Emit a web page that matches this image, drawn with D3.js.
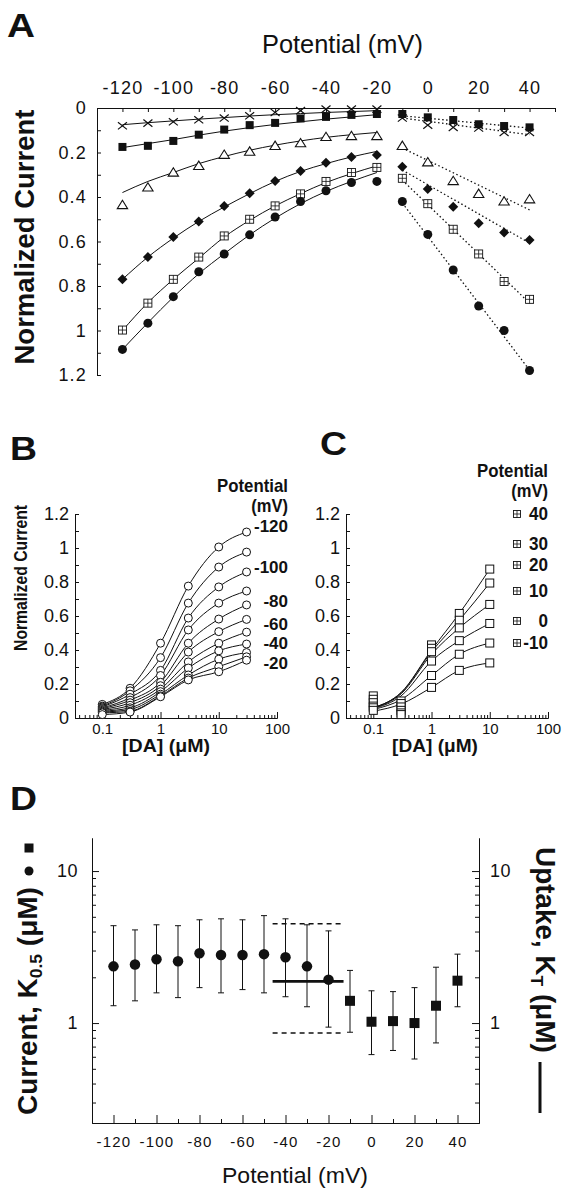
<!DOCTYPE html>
<html>
<head>
<meta charset="utf-8">
<script src="https://cdn.jsdelivr.net/npm/d3@7/dist/d3.min.js"></script>
<style>
html,body{margin:0;padding:0;background:#fff;}
svg{display:block;}
</style>
</head>
<body>
<svg id="fig" width="570" height="1199" viewBox="0 0 570 1199"></svg>
<script>
// ================= DATA =================
// ---- Panel A: normalized current vs potential ----
const potA = [-120,-110,-100,-90,-80,-70,-60,-50,-40,-30,-20,-10,0,10,20,30,40];
const aCross    = [0.080,0.068,0.062,0.053,0.045,0.035,0.020,0.012,0.005,0.005,0.005, 0.045,0.077,0.087,0.090,0.110,0.110];
const aSquare   = [0.175,0.170,0.148,0.120,0.097,0.077,0.067,0.047,0.040,0.031,0.027, 0.027,0.042,0.054,0.073,0.081,0.087];
const aTriangle = [0.436,0.357,0.290,0.260,0.210,0.196,0.170,0.158,0.130,0.126,0.126, 0.170,0.244,0.328,0.386,0.420,0.410];
const aDiamond  = [0.770,0.670,0.580,0.510,0.440,0.383,0.328,0.283,0.246,0.220,0.211, 0.264,0.364,0.444,0.518,0.559,0.593];
const aBoxPlus  = [0.998,0.877,0.770,0.670,0.575,0.500,0.440,0.386,0.330,0.290,0.267, 0.316,0.430,0.545,0.656,0.780,0.860];
const aCircle   = [1.085,0.967,0.848,0.736,0.656,0.570,0.490,0.420,0.372,0.335,0.330, 0.420,0.568,0.728,0.890,1.000,1.180];
// fitted curves (-120 .. -20 mV)
const fitPot = [-120,-110,-100,-90,-80,-70,-60,-50,-40,-30,-20];
const fitCross    = [0.075,0.066,0.058,0.050,0.043,0.036,0.030,0.025,0.020,0.016,0.012];
const fitSquare   = [0.178,0.160,0.142,0.122,0.104,0.088,0.074,0.062,0.050,0.040,0.030];
const fitTriangle = [0.380,0.330,0.290,0.250,0.218,0.190,0.167,0.148,0.132,0.120,0.110];
const fitDiamond  = [0.770,0.670,0.585,0.510,0.445,0.385,0.330,0.285,0.250,0.220,0.195];
const fitBoxPlus  = [1.000,0.875,0.770,0.675,0.580,0.505,0.440,0.385,0.335,0.295,0.260];
const fitCircle   = [1.085,0.965,0.850,0.745,0.655,0.570,0.495,0.430,0.375,0.330,0.290];
// dotted linear fits (-10 .. 40 mV)
const dotPot = [-10, 40];
const dotCross    = [0.045, 0.120];
const dotSquare   = [0.035, 0.090];
const dotTriangle = [0.180, 0.458];
const dotDiamond  = [0.279, 0.607];
const dotBoxPlus  = [0.324, 0.877];
const dotCircle   = [0.427, 1.178];
const tickA = [-120,-110,-100,-90,-80,-70,-60,-50,-40,-30,-20,-10,0,10,20,30,40,50];
const labA  = [-120,-100,-80,-60,-40,-20,0,20,40];
const yTickA = [0,0.1,0.2,0.3,0.4,0.5,0.6,0.7,0.8,0.9,1.0,1.1,1.2];
const yLabA  = [0,0.2,0.4,0.6,0.8,1.0,1.2];

// ---- Panel B: current vs [DA], -120 .. -20 mV ----
const concB = [0.1, 0.3, 1, 3, 10, 30];
const potB  = [-120,-110,-100,-90,-80,-70,-60,-50,-40,-30,-20];
const bCurrent = [
  [0.080,0.175,0.440,0.776,1.006,1.094],
  [0.070,0.160,0.355,0.676,0.888,0.976],
  [0.065,0.140,0.280,0.588,0.771,0.859],
  [0.060,0.120,0.250,0.518,0.676,0.747],
  [0.055,0.105,0.210,0.440,0.582,0.665],
  [0.050,0.090,0.190,0.388,0.508,0.580],
  [0.045,0.075,0.170,0.330,0.440,0.505],
  [0.040,0.060,0.155,0.294,0.395,0.435],
  [0.035,0.050,0.140,0.253,0.346,0.385],
  [0.030,0.040,0.130,0.235,0.302,0.360],
  [0.020,0.035,0.125,0.224,0.272,0.340]
];
const legB = ['-120','-100','-80','-60','-40','-20'];

// ---- Panel C: current vs [DA], 40 .. -10 mV ----
const concC = [0.1, 0.3, 1, 3, 10];
const potC  = [40, 30, 20, 10, 0, -10];
const cCurrent = [
  [0.130,0.100,0.430,0.615,0.876],
  [0.110,0.085,0.410,0.575,0.794],
  [0.090,0.065,0.390,0.530,0.668],
  [0.070,0.045,0.335,0.455,0.556],
  [0.060,0.030,0.250,0.375,0.441],
  [0.045,0.020,0.180,0.280,0.324]
];
const cFit = [
  [0.060,0.150,0.400,0.615,0.876],
  [0.060,0.148,0.390,0.575,0.794],
  [0.058,0.142,0.375,0.530,0.668],
  [0.055,0.130,0.335,0.455,0.556],
  [0.050,0.108,0.250,0.375,0.441],
  [0.040,0.082,0.180,0.280,0.324]
];
const tickBC_major = [0.1, 1, 10, 100];
const tickBC_minor = [0.04,0.05,0.06,0.07,0.08,0.09,0.2,0.3,0.4,0.5,0.6,0.7,0.8,0.9,2,3,4,5,6,7,8,9,20,30,40,50,60,70,80,90];
const yTickBC = [0,0.1,0.2,0.3,0.4,0.5,0.6,0.7,0.8,0.9,1.0,1.1,1.2];
const yLabBC  = [0,0.2,0.4,0.6,0.8,1.0,1.2];

// ---- Panel D: K0.5 (current) and KT (uptake) ----
const potDcirc = [-120,-110,-100,-90,-80,-70,-60,-50,-40,-30,-20];
const kCurr    = [2.36,2.43,2.63,2.55,2.88,2.80,2.80,2.84,2.71,2.36,1.93];
const kCurrHi  = [4.37,4.10,4.43,4.37,4.78,4.85,4.78,5.09,4.85,4.43,4.04];
const kCurrLo  = [1.30,1.40,1.58,1.47,1.71,1.58,1.66,1.58,1.49,1.28,0.94];
const potDsq   = [-10,0,10,20,30,40];
const kSq      = [1.40,1.02,1.03,1.00,1.30,1.90];
const kSqHi    = [2.22,1.63,1.61,1.71,2.33,2.84];
const kSqLo    = [0.87,0.62,0.66,0.58,0.74,1.28];
const uptakeSpan = [-46, -13];
const uptakeK  = 1.88;
const uptakeHi = 4.5;
const uptakeLo = 0.86;
const tickD_major = [-120,-100,-80,-60,-40,-20,0,20,40];
const tickD_minor = [-110,-90,-70,-50,-30,-10,10,30];
const yTickD_major = [1, 10];
const yTickD_minor = [0.3,0.4,0.5,0.6,0.7,0.8,0.9,2,3,4,5,6,7,8,9];

// ================= DRAWING =================
const FONT = '"Liberation Sans", Arial, Helvetica, sans-serif';
const INK = '#111';
const svg = d3.select('#fig').attr('font-family', FONT);
svg.append('rect').attr('width', 570).attr('height', 1199).attr('fill', '#fff');

function fitText(parent, o) {
  const g = parent.append('g');
  const t = g.append('text')
    .attr('font-size', o.size)
    .attr('font-weight', o.weight || 'normal')
    .attr('text-anchor', o.anchor || 'start')
    .attr('fill', INK);
  if (o.parts) {
    o.parts.forEach(p => {
      const ts = t.append('tspan').text(p.t);
      if (p.size) ts.attr('font-size', p.size);
      if (p.dy) ts.attr('dy', p.dy);
    });
  } else t.text(o.text);
  let sx = o.sx || 1;
  if (o.width) sx = o.width / t.node().getComputedTextLength();
  g.attr('transform', `translate(${o.x},${o.y}) rotate(${o.rotate || 0}) scale(${sx},1)`);
  return g;
}

function styleAxis(sel, size, spacing) {
  sel.attr('font-family', FONT).attr('font-size', size);
  sel.selectAll('.domain').attr('stroke', INK).attr('stroke-width', 1);
  sel.selectAll('.tick line').attr('stroke', INK).attr('stroke-width', 1);
  sel.selectAll('.tick text').attr('fill', INK);
  if (spacing) sel.selectAll('.tick text').attr('letter-spacing', spacing);
}

function marker(g, type, cx, cy, s) {
  const h = s / 2;
  if (type === 'circleF') {
    g.append('circle').attr('cx', cx).attr('cy', cy).attr('r', h).attr('fill', INK);
  } else if (type === 'circleO') {
    g.append('circle').attr('cx', cx).attr('cy', cy).attr('r', h).attr('fill', '#fff').attr('stroke', INK).attr('stroke-width', 1);
  } else if (type === 'squareF') {
    g.append('rect').attr('x', cx - h).attr('y', cy - h).attr('width', s).attr('height', s).attr('fill', INK);
  } else if (type === 'squareO') {
    g.append('rect').attr('x', cx - h).attr('y', cy - h).attr('width', s).attr('height', s).attr('fill', '#fff').attr('stroke', INK).attr('stroke-width', 1);
  } else if (type === 'boxPlus') {
    g.append('rect').attr('x', cx - h).attr('y', cy - h).attr('width', s).attr('height', s).attr('fill', '#fff').attr('stroke', INK).attr('stroke-width', 0.9);
    g.append('path').attr('d', `M${cx - h},${cy}H${cx + h}M${cx},${cy - h}V${cy + h}`).attr('stroke', INK).attr('stroke-width', 0.8);
  } else if (type === 'diamF') {
    g.append('path').attr('d', `M${cx},${cy - h}L${cx + h},${cy}L${cx},${cy + h}L${cx - h},${cy}Z`).attr('fill', INK);
  } else if (type === 'triO') {
    g.append('path').attr('d', `M${cx},${cy - h * 1.05}L${cx + h * 1.15},${cy + h * 0.8}L${cx - h * 1.15},${cy + h * 0.8}Z`)
      .attr('fill', '#fff').attr('stroke', INK).attr('stroke-width', 1.1);
  } else if (type === 'cross') {
    g.append('path').attr('d', `M${cx - h},${cy - h * 0.8}L${cx + h},${cy + h * 0.8}M${cx + h},${cy - h * 0.8}L${cx - h},${cy + h * 0.8}`)
      .attr('stroke', INK).attr('stroke-width', 1.2).attr('fill', 'none');
  }
}

// ---------- Panel A ----------
const gA = svg.append('g');
const xA = d3.scaleLinear().domain([-130, 50]).range([97, 555]);
const yA = d3.scaleLinear().domain([0, 1.2]).range([108, 375]);

const axTA = gA.append('g').attr('transform', `translate(0,${yA(0)})`)
  .call(d3.axisTop(xA).tickValues(tickA).tickSize(-4).tickSizeOuter(0).tickPadding(14)
    .tickFormat(d => labA.includes(d) ? String(d) : ''));
styleAxis(axTA, 18, 1.2);

const fmt1 = d => String(+d.toFixed(1));
const axLA = gA.append('g').attr('transform', `translate(${xA(-130)},0)`)
  .call(d3.axisLeft(yA).tickValues(yTickA).tickSize(-4).tickSizeOuter(0).tickPadding(10)
    .tickFormat(d => yLabA.some(v => Math.abs(v - d) < 1e-6) ? fmt1(d) : ''));
styleAxis(axLA, 18, 1.2);

const seriesA = [
  {vals: aCross,    fit: fitCross,    dot: dotCross,    type: 'cross',   s: 9},
  {vals: aSquare,   fit: fitSquare,   dot: dotSquare,   type: 'squareF', s: 8},
  {vals: aTriangle, fit: fitTriangle, dot: dotTriangle, type: 'triO',    s: 9},
  {vals: aDiamond,  fit: fitDiamond,  dot: dotDiamond,  type: 'diamF',   s: 10},
  {vals: aBoxPlus,  fit: fitBoxPlus,  dot: dotBoxPlus,  type: 'boxPlus', s: 8},
  {vals: aCircle,   fit: fitCircle,   dot: dotCircle,   type: 'circleF', s: 9}
];
const lineA = d3.line().x(d => xA(d[0])).y(d => yA(d[1])).curve(d3.curveMonotoneX);
const lineAstraight = d3.line().x(d => xA(d[0])).y(d => yA(d[1]));
seriesA.forEach(s => {
  gA.append('path').attr('d', lineA(d3.zip(fitPot, s.fit)))
    .attr('fill', 'none').attr('stroke', INK).attr('stroke-width', 1);
  gA.append('path').attr('d', lineAstraight(d3.zip(dotPot, s.dot)))
    .attr('fill', 'none').attr('stroke', INK).attr('stroke-width', 1.3).attr('stroke-dasharray', '1.5,2.5');
});
seriesA.forEach(s => {
  potA.forEach((p, i) => marker(gA, s.type, xA(p), yA(s.vals[i]), s.s));
});

fitText(svg, {text: 'A', x: 7, y: 37, size: 34, weight: 'bold', width: 28});
fitText(svg, {text: 'Potential (mV)', x: 262, y: 53, size: 26, width: 161});
fitText(svg, {text: 'Normalized Current', x: 34, y: 237, rotate: -90, anchor: 'middle', size: 27, weight: 'bold', width: 255});

// ---------- Panels B & C ----------
function concAxes(g, x, y, x0) {
  const axL = g.append('g').attr('transform', `translate(${x0},0)`)
    .call(d3.axisLeft(y).tickValues(yTickBC).tickSize(-4).tickSizeOuter(0).tickPadding(6)
      .tickFormat(d => yLabBC.some(v => Math.abs(v - d) < 1e-6) ? fmt1(d) : ''));
  styleAxis(axL, 18);
  const axMin = g.append('g').attr('transform', `translate(0,${y(0)})`)
    .call(d3.axisBottom(x).tickValues(tickBC_minor).tickSize(-3).tickSizeOuter(0).tickFormat(''));
  styleAxis(axMin, 15);
  const axMaj = g.append('g').attr('transform', `translate(0,${y(0)})`)
    .call(d3.axisBottom(x).tickValues(tickBC_major).tickSize(-6).tickSizeOuter(0).tickPadding(5)
      .tickFormat(d => String(d)));
  styleAxis(axMaj, 15);
}

const gB = svg.append('g');
const xB = d3.scaleLog().domain([0.034, 100]).range([75, 277]);
const yB = d3.scaleLinear().domain([0, 1.2]).range([718, 514]);
concAxes(gB, xB, yB, 75);
const lineB = d3.line().x(d => xB(d[0])).y(d => yB(d[1])).curve(d3.curveMonotoneX);
bCurrent.forEach(row => {
  gB.append('path').attr('d', lineB(d3.zip(concB, row))).attr('fill', 'none').attr('stroke', INK).attr('stroke-width', 1);
});
bCurrent.forEach(row => {
  concB.forEach((c, i) => marker(gB, 'circleO', xB(c), yB(row[i]), 8));
});
fitText(svg, {text: 'B', x: 10, y: 460, size: 34, weight: 'bold', width: 27});
fitText(svg, {text: 'Normalized Current', x: 27, y: 578, rotate: -90, anchor: 'middle', size: 19, weight: 'bold', width: 146});
fitText(svg, {text: '[DA] (μM)', x: 166, y: 752, anchor: 'middle', size: 18, weight: 'bold', width: 88});
fitText(svg, {text: 'Potential', x: 288, y: 492, anchor: 'end', size: 18, weight: 'bold', width: 71});
fitText(svg, {text: '(mV)', x: 288, y: 512, anchor: 'end', size: 18, weight: 'bold', sx: 0.92});
const legBy = [532, 573, 607, 630, 649, 669];
legB.forEach((t, i) => fitText(svg, {text: t, x: 288, y: legBy[i], anchor: 'end', size: 17, weight: 'bold', sx: 1.0}));

const gC = svg.append('g');
const xC = d3.scaleLog().domain([0.034, 100]).range([346, 548]);
const yC = d3.scaleLinear().domain([0, 1.2]).range([718, 514]);
concAxes(gC, xC, yC, 346);
const lineC = d3.line().x(d => xC(d[0])).y(d => yC(d[1])).curve(d3.curveMonotoneX);
cFit.forEach(row => {
  gC.append('path').attr('d', lineC(d3.zip(concC, row))).attr('fill', 'none').attr('stroke', INK).attr('stroke-width', 1);
});
cCurrent.forEach(row => {
  concC.forEach((c, i) => marker(gC, 'squareO', xC(c), yC(row[i]), 8));
});
fitText(svg, {text: 'C', x: 320, y: 455, size: 34, weight: 'bold', width: 27});
fitText(svg, {text: '[DA] (μM)', x: 435, y: 752, anchor: 'middle', size: 18, weight: 'bold', width: 86});
fitText(svg, {text: 'Potential', x: 548, y: 477, anchor: 'end', size: 18, weight: 'bold', width: 71});
fitText(svg, {text: '(mV)', x: 548, y: 497, anchor: 'end', size: 18, weight: 'bold', sx: 0.92});
const legCy = [520, 550, 571, 597, 627, 649];
potC.forEach((p, i) => {
  fitText(svg, {text: String(p), x: 548, y: legCy[i], anchor: 'end', size: 18, weight: 'bold', sx: 0.95});
  marker(svg, 'boxPlus', 517, legCy[i] - 6, 7);
});

// ---------- Panel D ----------
const gD = svg.append('g');
const xD = d3.scaleLinear().domain([-130, 50]).range([92, 479]);
const yD = d3.scaleLog().domain([0.22, 16.5]).range([1123, 838]);

const axDminX = gD.append('g').attr('transform', `translate(0,${yD(0.22)})`)
  .call(d3.axisBottom(xD).tickValues(tickD_minor).tickSize(-4).tickSizeOuter(0).tickFormat(''));
styleAxis(axDminX, 15);
const axDmajX = gD.append('g').attr('transform', `translate(0,${yD(0.22)})`)
  .call(d3.axisBottom(xD).tickValues(tickD_major).tickSize(-8).tickSizeOuter(0).tickPadding(13).tickFormat(d => String(d)));
styleAxis(axDmajX, 15, 1.2);

[['L', xD(-130)], ['R', xD(50)]].forEach(([side, xpos]) => {
  const mk = side === 'L' ? d3.axisLeft : d3.axisRight;
  const a1 = gD.append('g').attr('transform', `translate(${xpos},0)`)
    .call(mk(yD).tickValues(yTickD_minor).tickSize(-4).tickSizeOuter(0).tickFormat(''));
  styleAxis(a1, 18);
  const a2 = gD.append('g').attr('transform', `translate(${xpos},0)`)
    .call(mk(yD).tickValues(yTickD_major).tickSize(-7).tickSizeOuter(0).tickPadding(side === 'L' ? 14 : 11).tickFormat(d => String(d)));
  styleAxis(a2, 18, 0.5);
});

// uptake KT band
gD.append('line').attr('x1', xD(uptakeSpan[0])).attr('x2', xD(uptakeSpan[1]))
  .attr('y1', yD(uptakeK)).attr('y2', yD(uptakeK)).attr('stroke', INK).attr('stroke-width', 2.6);
[uptakeHi, uptakeLo].forEach(v => {
  gD.append('line').attr('x1', xD(uptakeSpan[0])).attr('x2', xD(uptakeSpan[1]))
    .attr('y1', yD(v)).attr('y2', yD(v)).attr('stroke', INK).attr('stroke-width', 1.4).attr('stroke-dasharray', '5,4');
});

function errBar(g, x, lo, hi) {
  g.append('path').attr('d', `M${x},${yD(lo)}V${yD(hi)}M${x - 3},${yD(lo)}H${x + 3}M${x - 3},${yD(hi)}H${x + 3}`)
    .attr('stroke', INK).attr('stroke-width', 1).attr('fill', 'none');
}
potDcirc.forEach((p, i) => errBar(gD, xD(p), kCurrLo[i], kCurrHi[i]));
potDsq.forEach((p, i) => errBar(gD, xD(p), kSqLo[i], kSqHi[i]));
potDcirc.forEach((p, i) => marker(gD, 'circleF', xD(p), yD(kCurr[i]), 10.5));
potDsq.forEach((p, i) => marker(gD, 'squareF', xD(p), yD(kSq[i]), 10));

fitText(svg, {text: 'D', x: 10, y: 810, size: 34, weight: 'bold', width: 27});
fitText(svg, {text: 'Potential (mV)', x: 222, y: 1183, size: 22, width: 146});
fitText(svg, {parts: [{t: 'Current, K'}, {t: '0.5', size: 17, dy: 5}, {t: ' (μM)', size: 27, dy: -5}],
  x: 37, y: 1115, rotate: -90, anchor: 'start', size: 27, weight: 'bold', width: 228});
marker(svg, 'circleF', 29, 871, 9);
marker(svg, 'squareF', 29, 848, 9);
fitText(svg, {parts: [{t: 'Uptake, K'}, {t: 'T', size: 17, dy: 5}, {t: ' (μM)', size: 27, dy: -5}],
  x: 536, y: 847, rotate: 90, anchor: 'start', size: 27, weight: 'bold', width: 206});
svg.append('line').attr('x1', 540).attr('x2', 540).attr('y1', 1062).attr('y2', 1113).attr('stroke', INK).attr('stroke-width', 3);
</script>
</body>
</html>
